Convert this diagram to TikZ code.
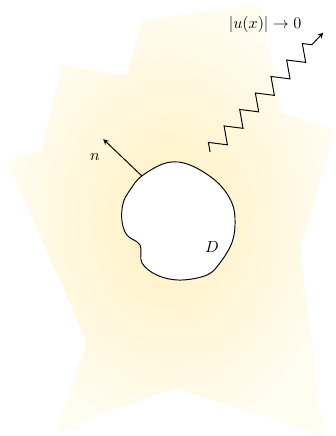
\documentclass[tikz,border=0pt]{standalone}
\usepackage{amsmath,amssymb}
\usepackage{tikz}
\usetikzlibrary{decorations.pathmorphing}

\definecolor{glow}{RGB}{255,241,192}
\definecolor{glowedge}{RGB}{255,252,240}

\begin{document}
\begin{tikzpicture}[>=stealth, semithick]
 \useasboundingbox (0,0) rectangle (7.39,9.59);
 % unbounded exterior
 \shade[inner color=glow, outer color=glowedge]
  (3.12,9.15) -- (5.72,9.48) -- (6.20,7.11) -- (7.37,6.73) -- (6.60,4.14)
  -- (7.11,0.02) -- (3.85,1.06) -- (1.25,0.13) -- (1.91,2.07) -- (0.15,6.07)
  -- (0.92,6.29) -- (1.36,8.16) -- (2.79,7.92) -- cycle;

 % obstacle D
 \draw[fill=white] plot[smooth cycle, tension=0.6] coordinates {
  (3.12,5.72) (3.67,6.01) (4.18,5.96) (4.77,5.59) (5.10,5.13) (5.17,4.69)
  (5.10,4.25) (4.84,3.81) (4.55,3.54) (3.96,3.43) (3.45,3.54) (3.12,3.81)
  (3.08,4.20) (2.79,4.42) (2.68,4.75) (2.71,5.13) (2.86,5.41)};
 \node (D) at (4.66,4.16) {$D$};

 % normal
 \coordinate (foot) at (3.12,5.72);
 \coordinate (ntip) at (2.27,6.53);
 \draw[->] (foot) -- (ntip);
 \node (n) at (2.09,6.14) {$n$};

 % radiation to infinity
 \coordinate (wstart) at (4.62,6.25);
 \coordinate (wend) at (7.11,8.87);
 \draw[->, decorate, decoration={zigzag, segment length=0.5cm,
  amplitude=0.17cm, post length=0.35cm}] (wstart) -- (wend);
 \node (decay) at (5.83,9.04) {$|u(x)| \to 0$};
\end{tikzpicture}
\end{document}
